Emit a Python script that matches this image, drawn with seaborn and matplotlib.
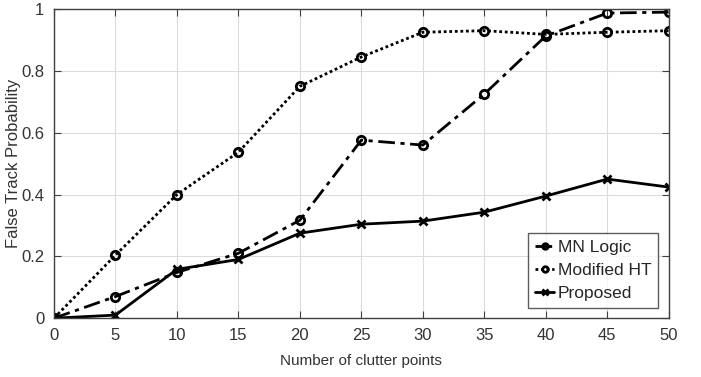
import matplotlib
matplotlib.use('Agg')
import matplotlib.pyplot as plt
import seaborn as sns
import pandas as pd

# Data
clutter = [0, 5, 10, 15, 20, 25, 30, 35, 40, 45, 50]
mn_logic = [0.0, 0.07, 0.148, 0.21, 0.317, 0.576, 0.56, 0.725, 0.913, 0.987, 0.99]
modified_ht = [0.0, 0.204, 0.40, 0.537, 0.75, 0.845, 0.925, 0.93, 0.918, 0.925, 0.93]
proposed = [0.0, 0.01, 0.158, 0.19, 0.275, 0.304, 0.314, 0.343, 0.395, 0.45, 0.424]

sns.set_style('whitegrid')
plt.rcParams['font.family'] = ['Liberation Sans', 'DejaVu Sans']

fig = plt.figure(figsize=(7.01, 3.77), dpi=100)
ax = fig.add_axes([0.077, 0.156, 0.877, 0.82])

series = [
    ('MN Logic', mn_logic, (0, (6, 2, 1.5, 2)), 'o', 'none'),
    ('Modified HT', modified_ht, (0, (1, 1)), 'o', 'none'),
    ('Proposed', proposed, '-', 'x', 'k'),
]
for name, vals, ls, mk, mfc in series:
    df = pd.DataFrame({'x': clutter, 'y': vals})
    sns.lineplot(data=df, x='x', y='y', ax=ax, color='black', linewidth=2,
                 linestyle=ls, marker=mk, markersize=6, markerfacecolor=mfc,
                 markeredgecolor='black', markeredgewidth=2, label=name)

ax.set_xlim(0, 50)
ax.set_ylim(0, 1)
ax.set_xticks(clutter)
ax.set_yticks([0, 0.2, 0.4, 0.6, 0.8, 1])
ax.set_yticklabels(['0', '0.2', '0.4', '0.6', '0.8', '1'])
ax.grid(True, color='#dcdcdc', linewidth=0.8)
for s in ax.spines.values():
    s.set_color('#404040')
    s.set_linewidth(1.0)
ax.tick_params(direction='in', length=5, colors='#404040', labelsize=12,
               top=True, right=True, bottom=True, left=True, pad=7)
for lab in ax.get_xticklabels() + ax.get_yticklabels():
    lab.set_color('#333333')
ax.set_xlabel('Number of clutter points', fontsize=11, color='#333333',
              labelpad=8)
ax.set_ylabel('False Track Probability', fontsize=12, color='#333333')
ax.yaxis.set_label_coords(-0.053, 0.5)

leg = ax.legend(loc='lower right', fontsize=12.5, frameon=True, fancybox=False,
                edgecolor='#333333', handlelength=1.1, handletextpad=0.2,
                borderpad=0.4, labelspacing=0.45, borderaxespad=0.6)
leg.get_frame().set_linewidth(1.0)
for h in leg.get_lines():
    h.set_markersize(4)

fig.savefig('out.png', dpi=100)
